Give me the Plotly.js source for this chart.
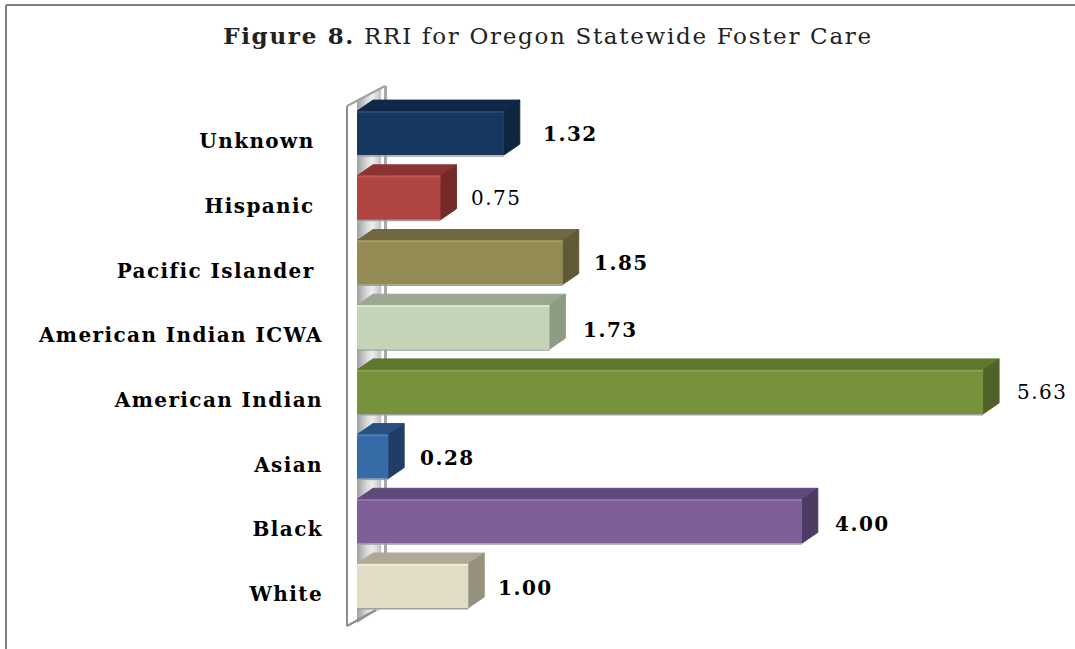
<!DOCTYPE html>
<html>
<head>
<meta charset="utf-8">
<script src="https://cdn.plot.ly/plotly-3.0.1.min.js"></script>
<style>
html,body{margin:0;padding:0;background:#fff}
#chart{width:1075px;height:649px}
#chart .gtitle{letter-spacing:1.7px}
#chart .ytick text{letter-spacing:1.4px}
#chart .annotation-text{letter-spacing:1.5px}
</style>
</head>
<body>
<div id="chart"></div>
<script>
// Data, bottom to top
const categories = ["White", "Black", "Asian", "American Indian", "American Indian ICWA", "Pacific Islander\u00a0", "Hispanic\u00a0", "Unknown\u00a0"];
const values = [1.00, 4.00, 0.28, 5.63, 1.73, 1.85, 0.75, 1.32];
const valueText = ["1.00", "4.00", "0.28", "5.63", "1.73", "1.85", "0.75", "1.32"];

// Styles
const frontColors = ["#e0dcc6", "#7f5f9a", "#376ba8", "#76933c", "#c3d4b8", "#948a54", "#b04442", "#17375e"];
const topColors   = ["#aeaa94", "#604a7b", "#2a5080", "#5f7830", "#9aa891", "#71683f", "#8c3331", "#10294a"];
const sideColors  = ["#94917f", "#4d3b63", "#1f3d66", "#4f6228", "#8c9c84", "#625a36", "#732a28", "#0f2540"];
const edgeColors  = ["#efecd9", "#8f70aa", "#4a7db8", "#87a44c", "#d6e5cc", "#a49a64", "#c25654", "#234a75"];
const labelGap    = [12, 15, 14, 16, 16, 13, 13, 21];
const labelLift   = [-2, -3, -1, 0, -3, 0, 0, -1];
const labelWeight = ["bold", "bold", "bold", "normal", "bold", "bold", "normal", "bold"];

// Page geometry
const W = 1075, H = 649, mL = 357, mR = 5, mT = 60, mB = 20;
const pxPerX = 111.2, pxPerY = 64.7, whiteCentre = 586;
const xMax = (W - mL - mR) / pxPerX;
const yMin = (whiteCentre - (H - mB)) / pxPerY;
const yMax = (whiteCentre - mT) / pxPerY;
const barW = 44 / pxPerY, depthX = 16 / pxPerX, depthY = 11 / pxPerY;
const index = categories.map((_, i) => i);
const px = x => (x - mL) / (W - mL - mR);
const py = y => 1 - (y - mT) / (H - mT - mB);

const shapes = [];
function poly(points, fill) {
  shapes.push({type: "path", xref: "paper", yref: "paper", layer: "below", fillcolor: fill, line: {width: 0},
    path: "M" + points.map(p => px(p[0]) + "," + py(p[1])).join("L") + "Z"});
}
function seg(x0, y0, x1, y1, color, width) {
  shapes.push({type: "line", xref: "paper", yref: "paper", layer: "below",
    x0: px(x0), y0: py(y0), x1: px(x1), y1: py(y1), line: {color: color, width: width}});
}
// Chart frame
seg(6, 5, W, 5, "#808080", 2);
seg(6, 5, 6, H, "#808080", 2);
// 3D axis wall: a shaded strip made of narrow bands
const wallShades = ["#a6a6a6", "#b0b0b0", "#bcbcbc", "#c8c8c8", "#d4d4d4", "#dedede", "#e6e6e6", "#ebebeb", "#e6e6e6", "#dcdcdc", "#d0d0d0", "#c6c6c6"];
wallShades.forEach((c, k) => {
  const a = 357 + k * 2, b = a + 2.2;
  const topAt = x => 100 - (x - 357) * 0.52, botAt = x => 623 - (x - 357) * 0.6;
  poly([[a, topAt(a)], [b, topAt(b)], [b, botAt(b)], [a, botAt(a)]], c);
});
seg(385.5, 86, 385.5, 600, "#a8a8a8", 3);
seg(347, 106, 347, 626, "#8c8c8c", 2);
seg(347, 106, 385, 86, "#a0a0a0", 2);
seg(347, 626, 376, 610, "#8c8c8c", 2);
// Bar depth faces, built from the values
values.forEach((v, i) => {
  const lo = i - barW / 2, hi = i + barW / 2;
  const path = pts => "M" + pts.map(p => p[0] + "," + p[1]).join("L") + "Z";
  shapes.push({type: "path", xref: "x", yref: "y", layer: "below", fillcolor: topColors[i], line: {width: 1, color: topColors[i]},
    path: path([[0, hi], [depthX, hi + depthY], [v + depthX, hi + depthY], [v, hi]])});
  shapes.push({type: "path", xref: "x", yref: "y", layer: "below", fillcolor: sideColors[i], line: {width: 1, color: sideColors[i]},
    path: path([[v, hi], [v + depthX, hi + depthY], [v + depthX, lo + depthY], [v, lo]])});
  // soft lower edge
  shapes.push({type: "line", xref: "x", yref: "y", layer: "below", x0: 0, x1: v, y0: lo - 0.012, y1: lo - 0.012,
    line: {color: "#a0a0a0", width: 1.5}});
  // bevel highlight on the front face
  shapes.push({type: "line", xref: "x", yref: "y", layer: "above", x0: 0, x1: v, y0: hi - 0.012, y1: hi - 0.012,
    line: {color: edgeColors[i], width: 2}});
});

const annotations = values.map((v, i) => ({
  x: v, y: index[i], xref: "x", yref: "y", xanchor: "left", yanchor: "middle",
  xshift: 16 + labelGap[i] + 3, yshift: labelLift[i], showarrow: false, text: valueText[i],
  font: {family: "DejaVu Serif", size: 20, color: "#000", weight: labelWeight[i]}
}));

const traces = [{
  type: "bar", orientation: "h", x: values, y: index, width: barW,
  marker: {color: frontColors, line: {width: 0}}, hoverinfo: "x+text", text: categories, textposition: "none"
}];

const layout = {
  width: W, height: H, autosize: false, showlegend: false,
  paper_bgcolor: "#fff", plot_bgcolor: "rgba(0,0,0,0)",
  margin: {l: mL, r: mR, t: mT, b: mB, pad: 0},
  title: {
    text: "<b>Figure 8.</b> RRI for Oregon Statewide Foster Care",
    font: {family: "DejaVu Serif", size: 23, color: "#222"},
    x: 548 / W, xanchor: "center", xref: "container", y: 1 - 36 / H, yanchor: "middle"
  },
  xaxis: {range: [0, xMax], visible: false, fixedrange: true},
  yaxis: {
    range: [yMin, yMax], fixedrange: true, zeroline: false, showgrid: false, showline: false,
    tickmode: "array", tickvals: index.map(i => i - 0.125), ticktext: categories,
    ticks: "outside", ticklen: 29, tickcolor: "rgba(0,0,0,0)",
    tickfont: {family: "DejaVu Serif", size: 20, color: "#000", weight: "bold"}
  },
  shapes: shapes,
  annotations: annotations
};
Plotly.newPlot("chart", traces, layout, {displayModeBar: false, responsive: false});
</script>
</body>
</html>
